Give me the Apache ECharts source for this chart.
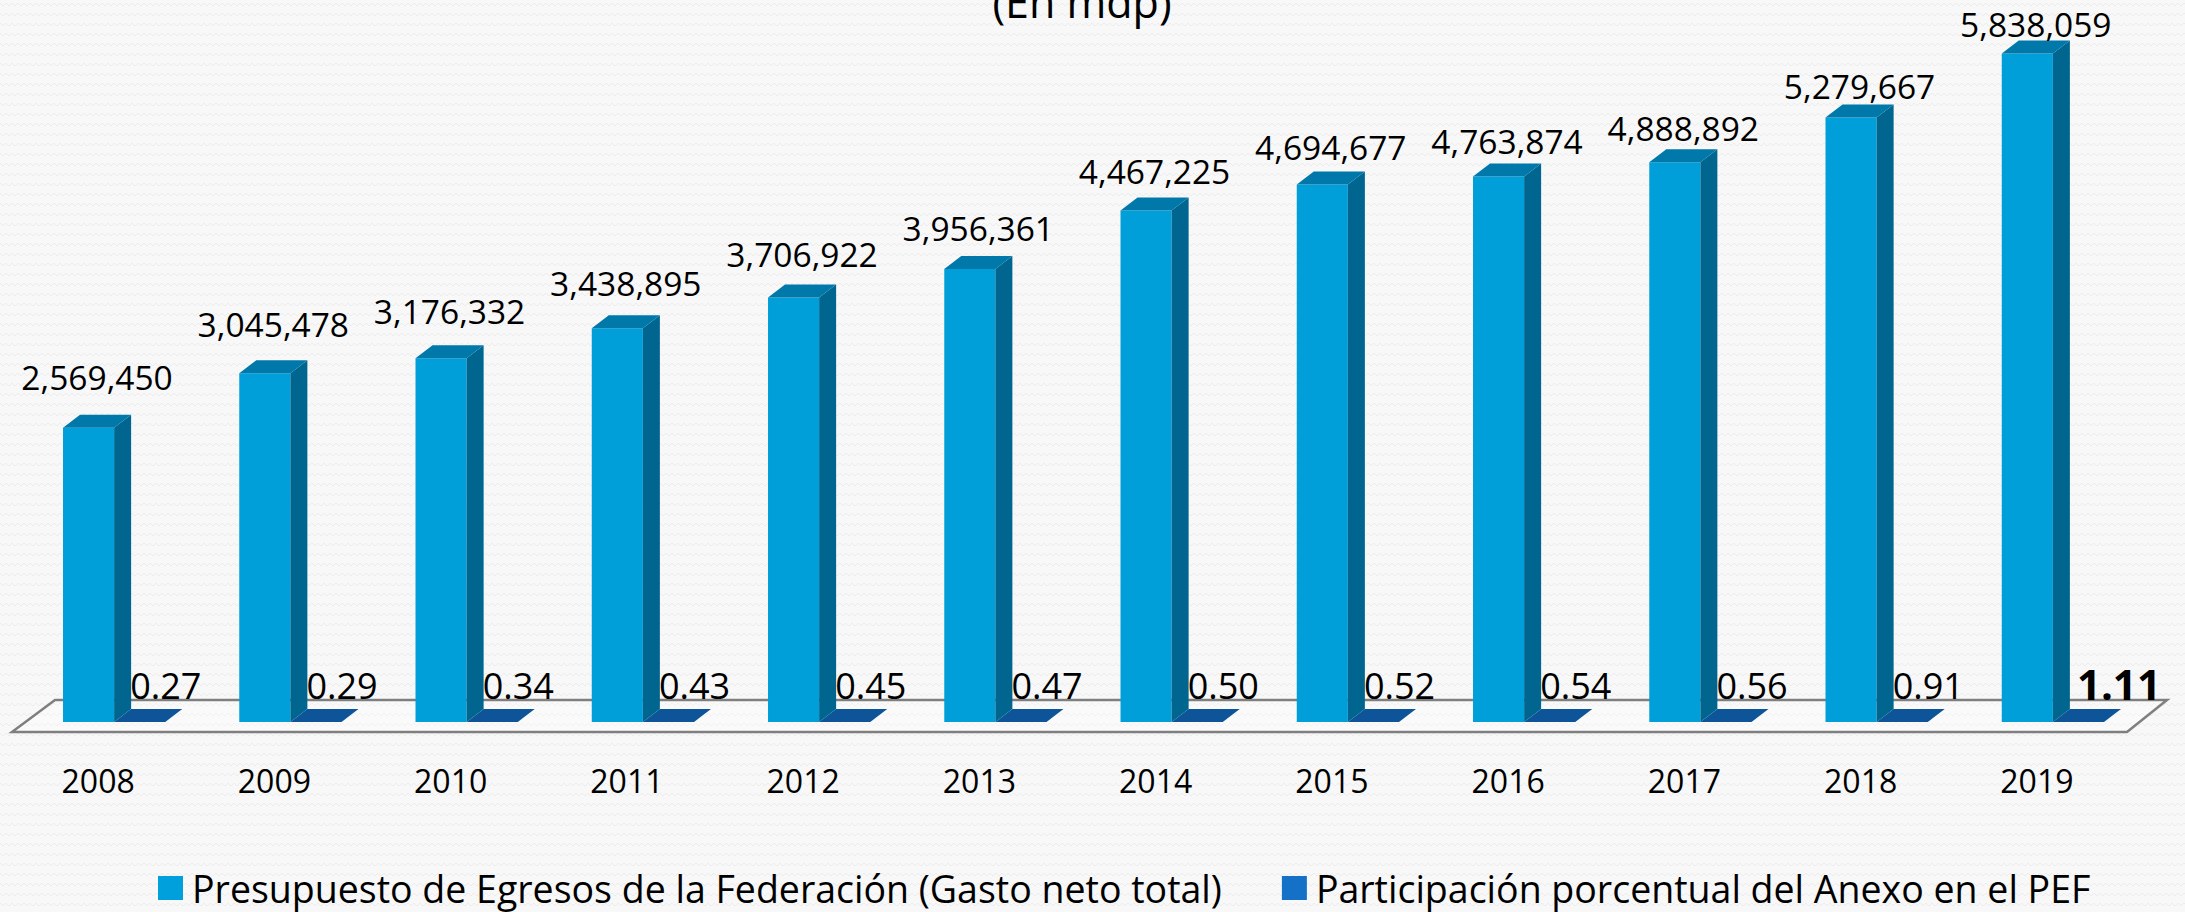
<!DOCTYPE html>
<html>
<head>
<meta charset="utf-8">
<script src="https://cdn.jsdelivr.net/npm/echarts@6/dist/echarts.min.js"></script>
<style>
html,body{margin:0;padding:0;}
body{
  background-color:#f8f8f8;
  background-image:url("data:image/svg+xml,%3Csvg xmlns='http://www.w3.org/2000/svg' width='12' height='10'%3E%3Cpolyline points='0,3 3,6 6,3 9,6 12,3' fill='none' stroke='%23ececec' stroke-width='1'/%3E%3C/svg%3E");
}
#chart{width:2185px;height:912px;}
</style>
</head>
<body>
<div id="chart"></div>
<script>
const years = ['2008','2009','2010','2011','2012','2013','2014','2015','2016','2017','2018','2019'];
const presupuesto = [2569450,3045478,3176332,3438895,3706922,3956361,4467225,4694677,4763874,4888892,5279667,5838059];
const participacion = [0.27,0.29,0.34,0.43,0.45,0.47,0.50,0.52,0.54,0.56,0.91,1.11];
const seriesNames = ['Presupuesto de Egresos de la Federación (Gasto neto total)','Participación porcentual del Anexo en el PEF'];
const subtitle = '(En mdp)';

const FONT = 'Open Sans';
const DX = 17, DY = 13;

function makeBar(which, colors) {
  return function (params, api) {
    const i = api.value(0), v = api.value(1);
    const top = api.coord([i, v]);
    const base = api.coord([i, 0]);
    const band = api.size([1, 0])[0];
    const w = band * 0.29;
    const x0 = which === 0 ? base[0] - w : base[0];
    const x1 = x0 + w;
    const yT = Math.min(top[1], base[1]);
    const yB = base[1];
    const n = years.length - 1;
    const children = [];
    if (yB - yT > 0.5) {
      children.push({type:'rect', shape:{x:x0, y:yT, width:w, height:yB-yT}, style:{fill:colors.front}});
      children.push({type:'polygon', shape:{points:[[x1,yT],[x1+DX,yT-DY],[x1+DX,yB-DY],[x1,yB]]}, style:{fill:colors.side}});
    }
    children.push({type:'polygon', shape:{points:[[x0,yT],[x0+DX,yT-DY],[x1+DX,yT-DY],[x1,yT]]}, style:{fill:colors.top}});
    if (which === 0) {
      const lift = 38 - 21 * params.dataIndex / n;
      children.push({type:'text', z2:10, style:{
        text: v.toLocaleString('en-US'), x: x0 + (w + DX) / 2, y: yT - DY - lift,
        align:'center', verticalAlign:'middle', fontFamily:FONT, fontSize:33.5, fill:'#000'}});
    } else {
      const last = params.dataIndex === n;
      children.push({type:'text', z2:10, style:{
        text: v.toFixed(2), x: x0 + (last ? 24 : 16), y: yB - (last ? 39 : 37),
        align:'left', verticalAlign:'middle', fontFamily:FONT,
        fontSize: last ? 42 : 36, fontWeight: last ? 'bold' : 'normal', fill:'#000'}});
    }
    return {type:'group', children};
  };
}

const chart = echarts.init(document.getElementById('chart'), null, {renderer:'svg'});
chart.setOption({
  animation:false,
  backgroundColor:'transparent',
  graphic:[{type:'text', style:{text:subtitle, x:1082, y:1, align:'center', verticalAlign:'middle',
    fontFamily:FONT, fontSize:43, fill:'#000'}}],
  grid:{left:26, right:44, top:35, bottom:190, containLabel:false, outerBoundsMode:'none'},
  legend:{data:seriesNames, left:153, top:863, icon:'rect', itemWidth:25, itemHeight:24, itemGap:60,
    textStyle:{fontFamily:FONT, fontSize:37.5, lineHeight:40, color:'#000', padding:[0,0,0,4]}},
  xAxis:{type:'category', data:years, axisLine:{show:false}, axisTick:{show:false},
    axisLabel:{fontFamily:FONT, fontSize:32, color:'#000', margin:42, padding:[0,32,0,0]}},
  yAxis:{type:'value', min:0, max:6000000, show:false, splitLine:{show:false}},
  series:[
    {name:'floor', type:'custom', silent:true, z:1, data:[[0,0]],
      renderItem:function(params, api){
        const cs = params.coordSys;
        const L = cs.x, R = cs.x + cs.width, B = cs.y + cs.height;
        return {type:'polygon', shape:{points:[[L-14,B+10],[R-14,B+10],[R+26,B-22],[L+29,B-22]]},
          style:{fill:'rgba(255,255,255,0.25)', stroke:'#7f7f7f', lineWidth:2.5}};
      }},
    {name:seriesNames[1], type:'custom', z:2, itemStyle:{color:'#1570C8'},
      data:participacion.map((v,i)=>[i,v]), encode:{x:0,y:1},
      renderItem:makeBar(1,{front:'#0D5598', side:'#0A4478', top:'#0D5598'})},
    {name:seriesNames[0], type:'custom', z:3, itemStyle:{color:'#00A0DC'},
      data:presupuesto.map((v,i)=>[i,v]), encode:{x:0,y:1},
      renderItem:makeBar(0,{front:'#009FDA', side:'#00658F', top:'#0079AA'})}
  ]
});
</script>
</body>
</html>
